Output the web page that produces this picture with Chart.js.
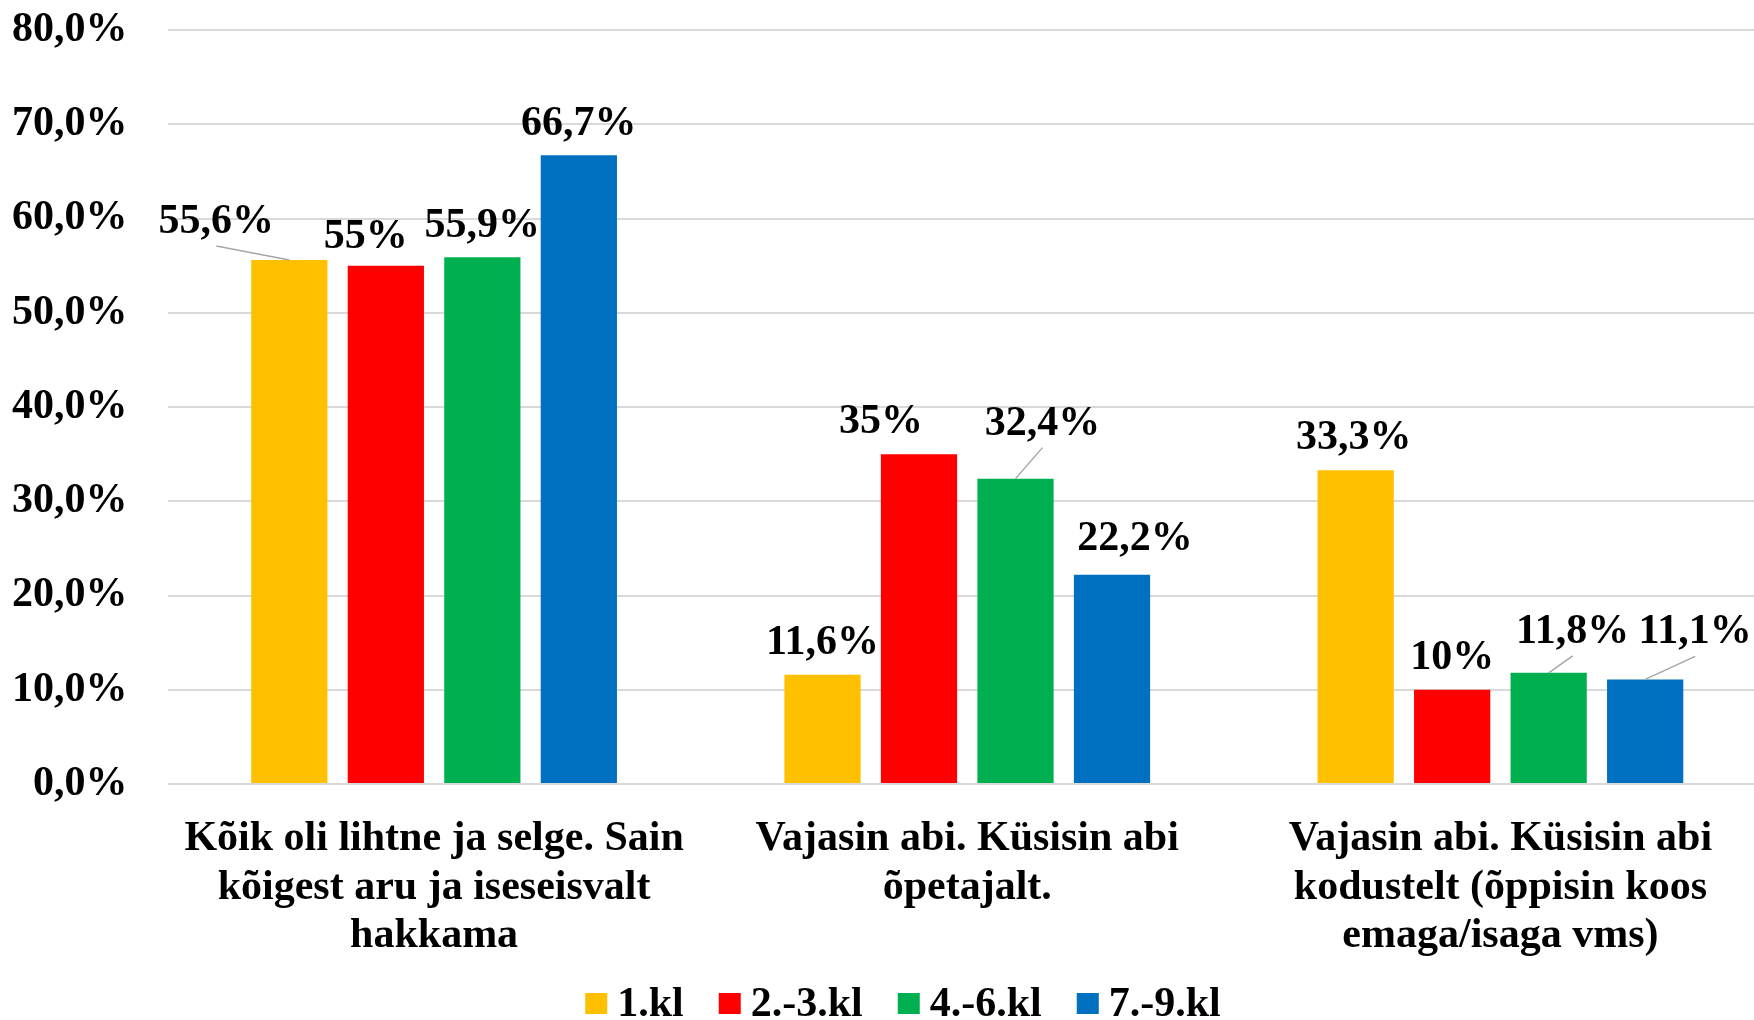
<!DOCTYPE html>
<html><head><meta charset="utf-8">
<script src="https://cdn.jsdelivr.net/npm/chart.js@4.4.1/dist/chart.umd.min.js"></script>
<style>html,body{margin:0;padding:0;overflow:hidden;background:#fff;width:1754px;height:1020px}canvas{display:block}</style>
</head><body>
<canvas id="c" width="1767" height="1020"></canvas>
<script>
const categories = [
  ["Kõik oli lihtne ja selge. Sain", "kõigest aru ja iseseisvalt", "hakkama"],
  ["Vajasin abi. Küsisin abi", "õpetajalt."],
  ["Vajasin abi. Küsisin abi", "kodustelt (õppisin koos", "emaga/isaga vms)"]
];
const seriesNames = ["1.kl", "2.-3.kl", "4.-6.kl", "7.-9.kl"];
const values1kl = [55.6, 11.6, 33.3];
const values2_3kl = [55, 35, 10];
const values4_6kl = [55.9, 32.4, 11.8];
const values7_9kl = [66.7, 22.2, 11.1];
const yTickLabels = ["0,0%", "10,0%", "20,0%", "30,0%", "40,0%", "50,0%", "60,0%", "70,0%", "80,0%"];

const colors = ["#FFC000", "#FF0000", "#00B050", "#0070C0"];
// label placement tweaks [dx, dy, leader]
const labelShift = [
  [[-73, -6, true], [0, 0, false], [-2, 0, false]],
  [[-20, 3, false], [-38, 0, false], [0, 0, false]],
  [[0, 1, false], [27, -23, true], [24, -9, true]],
  [[0, 1, false], [23, -4, false], [50, -15, true]]
];
const FONT = '"Liberation Serif", "Times New Roman", serif';

function fmt(v) {
  return (Number.isInteger(v) ? String(v) : v.toFixed(1).replace('.', ',')) + '%';
}

const labelPlugin = {
  id: 'labels',
  afterDatasetsDraw(chart) {
    const ctx = chart.ctx;
    ctx.save();
    ctx.font = 'bold 42px ' + FONT;
    ctx.textAlign = 'center';
    ctx.textBaseline = 'alphabetic';
    chart.data.datasets.forEach((ds, i) => {
      const meta = chart.getDatasetMeta(i);
      meta.data.forEach((el, j) => {
        const s = labelShift[i][j];
        const x = el.x + s[0];
        const y = el.y - 21 + s[1];
        if (s[2]) {
          ctx.strokeStyle = '#a6a6a6';
          ctx.lineWidth = 1.5;
          ctx.beginPath();
          ctx.moveTo(x, y + 13);
          ctx.lineTo(el.x, el.y);
          ctx.stroke();
        }
        ctx.fillStyle = '#000';
        ctx.fillText(fmt(ds.data[j]), x, y);
      });
    });
    ctx.restore();
  }
};

const legendPlugin = {
  id: 'customLegend',
  afterDraw(chart) {
    const ctx = chart.ctx;
    ctx.save();
    ctx.font = 'bold 42px ' + FONT;
    ctx.textBaseline = 'alphabetic';
    ctx.textAlign = 'left';
    const box = 22, gapText = 10, gapItem = 35;
    const items = chart.data.datasets.map(d => ({ t: d.label, c: d.backgroundColor, w: ctx.measureText(d.label).width }));
    let total = items.reduce((a, it) => a + box + gapText + it.w, 0) + gapItem * (items.length - 1);
    let x = 903 - total / 2;
    items.forEach(it => {
      ctx.fillStyle = it.c;
      ctx.fillRect(x, 993, box, 21);
      ctx.fillStyle = '#000';
      ctx.fillText(it.t, x + box + gapText, 1016);
      x += box + gapText + it.w + gapItem;
    });
    ctx.restore();
  }
};

const seriesValues = [values1kl, values2_3kl, values4_6kl, values7_9kl];

new Chart(document.getElementById('c'), {
  type: 'bar',
  data: {
    labels: categories,
    datasets: seriesNames.map((n, i) => ({
      label: n,
      data: seriesValues[i],
      backgroundColor: colors[i],
      borderWidth: 0,
      categoryPercentage: 0.724,
      barPercentage: 0.79
    }))
  },
  options: {
    responsive: false,
    devicePixelRatio: 1,
    animation: false,
    layout: { padding: { top: 30, left: 0, right: 0, bottom: 0 } },
    plugins: { legend: { display: false }, tooltip: { enabled: false } },
    scales: {
      x: {
        grid: { display: false },
        border: { display: false },
        ticks: {
          color: '#000',
          maxRotation: 0,
          autoSkip: false,
          padding: 23,
          font: { family: FONT, size: 42, weight: 'bold', lineHeight: 1.155 }
        },
        afterFit(scale) { scale.height = 236; scale.paddingLeft = 0; scale.paddingRight = 0; }
      },
      y: {
        min: 0,
        max: 80,
        ticks: {
          stepSize: 10,
          color: '#000',
          padding: 40,
          font: { family: FONT, size: 42, weight: 'bold' },
          callback: (v, idx) => yTickLabels[idx]
        },
        grid: { color: '#d9d9d9', lineWidth: 2, drawTicks: false },
        border: { display: false },
        afterFit(scale) { scale.width = 167.5; scale.paddingTop = 0; scale.paddingBottom = 0; }
      }
    }
  },
  plugins: [labelPlugin, legendPlugin]
});
</script>
</body></html>
